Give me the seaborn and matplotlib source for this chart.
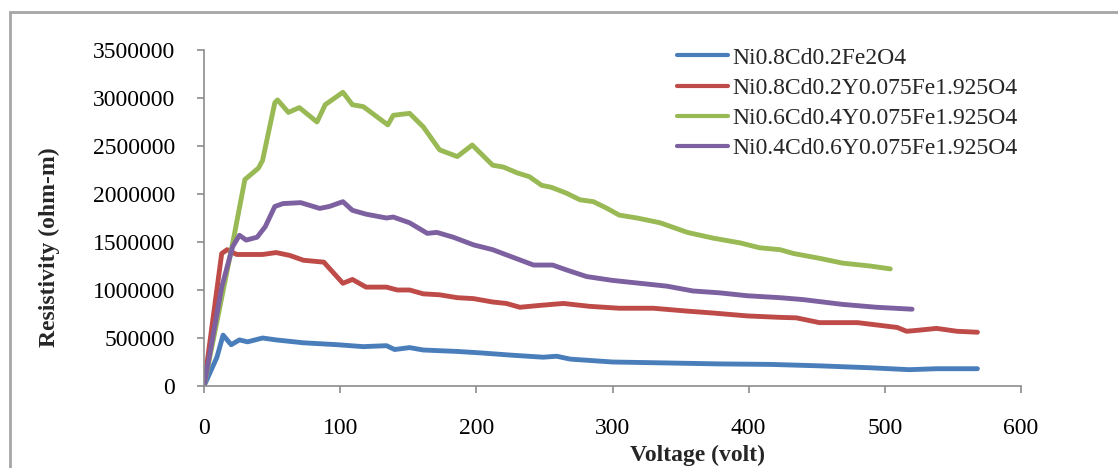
import matplotlib
matplotlib.use("Agg")
import matplotlib.pyplot as plt
import matplotlib.patches as mpatches
import seaborn as sns
import pandas as pd

# ---- data ----
series_names = [
    "Ni0.8Cd0.2Fe2O4",
    "Ni0.8Cd0.2Y0.075Fe1.925O4",
    "Ni0.6Cd0.4Y0.075Fe1.925O4",
    "Ni0.4Cd0.6Y0.075Fe1.925O4",
]

v_blue = [0, 9.5, 14, 20, 26, 32, 43, 53, 73, 98, 117, 134, 140, 151, 161, 186, 203, 227, 249, 259, 269, 300, 340, 379, 416, 452, 489, 518, 538, 568]
r_blue = [0, 300000, 530000, 430000, 480000, 460000, 500000, 480000, 450000, 430000, 410000, 420000, 380000, 400000, 375000, 360000, 345000, 320000, 300000, 310000, 280000, 250000, 240000, 230000, 225000, 210000, 190000, 170000, 180000, 180000]

v_red = [0, 13, 17, 24, 43, 53, 63, 73, 88, 95, 102, 109, 119, 134, 142, 151, 161, 173, 186, 198, 212, 222, 232, 247, 264, 283, 305, 330, 355, 374, 399, 423, 435, 452, 480, 509, 516, 524, 538, 553, 568]
r_red = [0, 1380000, 1420000, 1370000, 1370000, 1390000, 1360000, 1310000, 1290000, 1180000, 1070000, 1110000, 1030000, 1030000, 1000000, 1000000, 960000, 950000, 920000, 910000, 875000, 860000, 820000, 840000, 860000, 830000, 810000, 810000, 780000, 760000, 730000, 715000, 710000, 660000, 660000, 610000, 570000, 580000, 600000, 570000, 560000]

v_green = [0, 21.5, 30, 40, 43, 52, 54, 62, 70, 83, 89, 102, 109, 117, 135, 139, 151, 161, 173, 186, 197, 212, 220, 230, 239, 248, 255, 266, 276, 286, 296, 305, 318, 335, 355, 374, 394, 408, 423, 433, 452, 469, 489, 504]
r_green = [0, 1520000, 2150000, 2270000, 2350000, 2950000, 2980000, 2850000, 2900000, 2750000, 2930000, 3060000, 2930000, 2910000, 2720000, 2820000, 2840000, 2700000, 2460000, 2390000, 2510000, 2300000, 2280000, 2220000, 2180000, 2090000, 2070000, 2010000, 1940000, 1920000, 1850000, 1780000, 1750000, 1700000, 1600000, 1540000, 1490000, 1440000, 1420000, 1380000, 1330000, 1280000, 1250000, 1220000]

v_purple = [0, 13, 21, 26, 31, 39, 45, 52, 58, 71, 85, 92, 102, 109, 119, 134, 139, 151, 164, 171, 183, 198, 212, 227, 242, 256, 266, 281, 300, 320, 340, 359, 379, 399, 423, 440, 469, 494, 520]
r_purple = [0, 1030000, 1450000, 1570000, 1520000, 1550000, 1660000, 1870000, 1900000, 1910000, 1850000, 1870000, 1920000, 1830000, 1790000, 1750000, 1760000, 1700000, 1590000, 1600000, 1550000, 1470000, 1420000, 1340000, 1260000, 1260000, 1210000, 1140000, 1100000, 1070000, 1040000, 990000, 970000, 940000, 920000, 900000, 850000, 820000, 800000]

x_ticks = [0, 100, 200, 300, 400, 500, 600]
y_ticks = [0, 500000, 1000000, 1500000, 2000000, 2500000, 3000000, 3500000]
y_tick_labels = ["0", "500000", "1000000", "1500000", "2000000", "2500000", "3000000", "3500000"]
colors = ["#4A7EBB", "#BE4B48", "#98B954", "#7D60A0"]

# ---- build long-form table ----
frames = []
for name, vs, rs in zip(series_names,
                        [v_blue, v_red, v_green, v_purple],
                        [r_blue, r_red, r_green, r_purple]):
    frames.append(pd.DataFrame({"Voltage": vs, "Resistivity": rs, "Sample": name}))
df = pd.concat(frames, ignore_index=True)

sns.set_style("white")
plt.rcParams["font.family"] = ["Liberation Serif", "DejaVu Serif"]

fig = plt.figure(figsize=(11.18, 4.68), dpi=100)
ax = fig.add_axes([204 / 1118, 1 - 386 / 468, (1021 - 204) / 1118, (386 - 50) / 468])

sns.lineplot(data=df, x="Voltage", y="Resistivity", hue="Sample",
             palette=dict(zip(series_names, colors)), hue_order=series_names,
             estimator=None, sort=False, linewidth=3.5, ax=ax)

ax.set_xlim(0, 600)
ax.set_ylim(0, 3500000)
ax.set_xticks(x_ticks)
ax.set_xticklabels([str(t) for t in x_ticks], fontsize=17)
ax.set_yticks(y_ticks)
ax.set_yticklabels(y_tick_labels, fontsize=17)

for s in ["top", "right"]:
    ax.spines[s].set_visible(False)
for s in ["left", "bottom"]:
    ax.spines[s].set_color("#8C8C8C")
    ax.spines[s].set_linewidth(1.2)
ax.tick_params(axis="both", direction="out", length=5, width=1.2, color="#8C8C8C",
               labelcolor="black", bottom=True, left=True)
ax.tick_params(axis="x", pad=18)
ax.tick_params(axis="y", pad=16)

ax.set_xlabel("Voltage (volt)", fontsize=17, fontweight="bold")
ax.set_ylabel("Resistivity (ohm-m)", fontsize=17, fontweight="bold")
ax.xaxis.set_label_coords((697 - 204) / 817, (386 - 445) / 336)
ax.yaxis.set_label_coords((60 - 204) / 817, (386 - 247) / 336)

leg = ax.legend(loc="upper left", bbox_to_anchor=(677 / 1118, 1 - 47 / 468),
                bbox_transform=fig.transFigure, frameon=False, fontsize=17,
                handlelength=2.15, handletextpad=0.2, labelspacing=0.37,
                borderaxespad=0, borderpad=0)
for line in leg.get_lines():
    line.set_linewidth(3)

# outer chart frame (partially cropped in the reference)
fig.patches.append(mpatches.Rectangle((10 / 1118, -0.5), 2.0, 0.5 + 1 - 12 / 468,
                                      transform=fig.transFigure, fill=False,
                                      edgecolor="#A6A6A6", linewidth=2))

fig.savefig("out.png", dpi=100)
